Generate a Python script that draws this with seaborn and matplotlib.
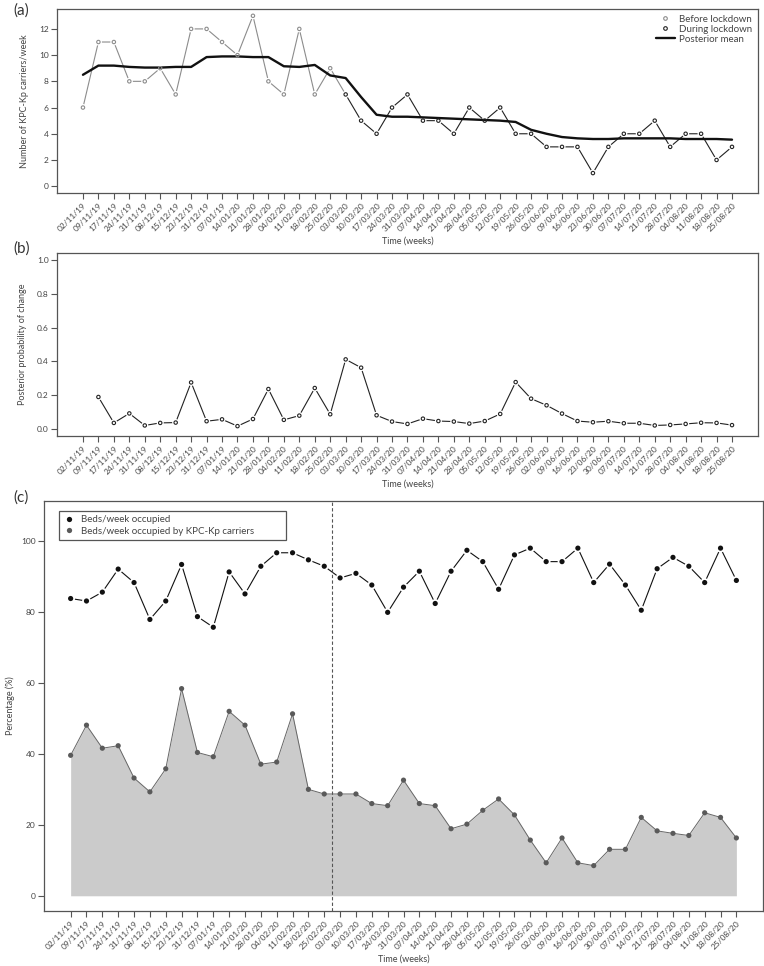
import numpy as np
import pandas as pd
import matplotlib
matplotlib.use("Agg")
import matplotlib.pyplot as plt
import seaborn as sns
from matplotlib.lines import Line2D

# ----------------------------
# DATA
# ----------------------------

weeks = ["02/11/19", "09/11/19", "17/11/19", "24/11/19", "31/11/19", "08/12/19",
         "15/12/19", "23/12/19", "31/12/19", "07/01/19", "14/01/20", "21/01/20",
         "28/01/20", "04/02/20", "11/02/20", "18/02/20", "25/02/20", "03/03/20",
         "10/03/20", "17/03/20", "24/03/20", "31/03/20", "07/04/20", "14/04/20",
         "21/04/20", "28/04/20", "05/05/20", "12/05/20", "19/05/20", "26/05/20",
         "02/06/20", "09/06/20", "16/06/20", "23/06/20", "30/06/20", "07/07/20",
         "14/07/20", "21/07/20", "28/07/20", "04/08/20", "11/08/20", "18/08/20",
         "25/08/20"]

kpc_carriers = [6, 11, 11, 8, 8, 9, 7, 12, 12, 11, 10, 13, 8, 7, 12, 7, 9, 7,
                5, 4, 6, 7, 5, 5, 4, 6, 5, 6, 4, 4, 3, 3, 3, 1, 3, 4, 4, 5, 3,
                4, 4, 2, 3]

posterior_mean = [8.5, 9.2, 9.2, 9.1, 9.05, 9.05, 9.1, 9.1, 9.85, 9.9, 9.9, 9.85,
                  9.85, 9.15, 9.1, 9.25, 8.45, 8.25, 6.8, 5.45, 5.3, 5.3, 5.25,
                  5.2, 5.15, 5.1, 5.05, 5.0, 4.9, 4.3, 4.0, 3.75, 3.65, 3.6, 3.6,
                  3.65, 3.65, 3.65, 3.65, 3.6, 3.6, 3.6, 3.55]

prob_change = [np.nan, 0.19, 0.037, 0.093, 0.022, 0.037, 0.039, 0.276, 0.047,
               0.058, 0.018, 0.06, 0.237, 0.055, 0.08, 0.243, 0.088, 0.412, 0.363,
               0.082, 0.045, 0.031, 0.062, 0.048, 0.045, 0.033, 0.048, 0.09,
               0.278, 0.18, 0.141, 0.092, 0.048, 0.041, 0.047, 0.035, 0.035,
               0.022, 0.025, 0.031, 0.038, 0.037, 0.024]

beds_occupied = [83.8, 83.1, 85.6, 92.1, 88.3, 77.9, 83.1, 93.4, 78.7, 75.7, 91.3,
                 85.1, 92.9, 96.7, 96.7, 94.7, 92.9, 89.6, 90.9, 87.6, 79.9, 87.0,
                 91.5, 82.4, 91.5, 97.4, 94.2, 86.4, 96.1, 98.0, 94.2, 94.2, 98.0,
                 88.3, 93.5, 87.6, 80.5, 92.2, 95.4, 92.9, 88.3, 98.0, 88.9]

beds_kpc = [39.6, 48.1, 41.6, 42.3, 33.2, 29.3, 35.8, 58.4, 40.4, 39.2, 52.0,
            48.1, 37.1, 37.7, 51.3, 30.0, 28.7, 28.7, 28.7, 26.0, 25.4, 32.6,
            26.0, 25.4, 18.9, 20.2, 24.1, 27.3, 22.8, 15.7, 9.3, 16.3, 9.3, 8.5,
            13.1, 13.1, 22.1, 18.3, 17.6, 17.0, 23.4, 22.1, 16.3]

lockdown_start = 17  # first week counted as "during lockdown"

df = pd.DataFrame({"t": np.arange(len(weeks)), "carriers": kpc_carriers,
                   "mean": posterior_mean, "prob": prob_change,
                   "beds": beds_occupied, "kpc": beds_kpc})

# ----------------------------
# STYLE
# ----------------------------

sns.set_style("ticks")
plt.rcParams["font.family"] = ["Lato", "DejaVu Sans"]

EDGE = "#555555"
TXT = "#444444"


def style_axes(ax, xlab, ylab):
    for s in ax.spines.values():
        s.set_visible(True)
        s.set_color(EDGE)
        s.set_linewidth(0.9)
    ax.set_xlim(-1.68, len(weeks) - 1 + 1.68)
    ax.set_xticks(df["t"])
    ax.set_xticklabels(weeks, rotation=45, ha="right", rotation_mode="anchor")
    ax.tick_params(direction="out", length=4, width=0.8, color=EDGE,
                   labelsize=6, labelcolor=TXT, pad=2)
    ax.set_xlabel(xlab, fontsize=6.5, color=TXT, labelpad=3)
    ax.set_ylabel(ylab, fontsize=6.5, color=TXT, labelpad=7)


fig = plt.figure(figsize=(7.64, 9.66), dpi=100)

# ----------------------------
# (a) KPC-Kp carriers per week
# ----------------------------

ax_a = fig.add_axes([0.0746, 0.8002, 0.9175, 0.1905])
before = df.iloc[:lockdown_start + 1]
during = df.iloc[lockdown_start:]

sns.lineplot(data=before, x="t", y="carriers", color="#8c8c8c", lw=0.8, ax=ax_a)
sns.lineplot(data=during, x="t", y="carriers", color="#222222", lw=0.8, ax=ax_a)
sns.scatterplot(data=df, x="t", y="carriers", color="white", edgecolor="none",
                s=26, ax=ax_a, zorder=3)
sns.lineplot(data=df, x="t", y="mean", color="#111111", lw=1.7, ax=ax_a, zorder=4)
sns.scatterplot(data=df.iloc[:lockdown_start], x="t", y="carriers", color="#8c8c8c",
                facecolor="none", edgecolor="#8c8c8c", linewidth=0.8, s=6,
                ax=ax_a, zorder=5)
sns.scatterplot(data=during, x="t", y="carriers", color="#222222",
                facecolor="none", edgecolor="#222222", linewidth=0.8, s=6,
                ax=ax_a, zorder=5)

ax_a.set_ylim(-0.52, 13.52)
ax_a.set_yticks(range(0, 13, 2))
style_axes(ax_a, "Time (weeks)", "Number of KPC-Kp carriers/week")

handles_a = [
    Line2D([], [], marker="o", ls="none", mfc="none", mec="#8c8c8c", mew=0.8, ms=2.6),
    Line2D([], [], marker="o", ls="none", mfc="none", mec="#222222", mew=0.8, ms=2.6),
    Line2D([], [], color="#111111", lw=1.7),
]
ax_a.legend(handles_a, ["Before lockdown", "During lockdown", "Posterior mean"],
            loc="upper right", frameon=False, fontsize=7, handlelength=2.0,
            handletextpad=0.4, labelspacing=0.1, borderaxespad=0.2,
            labelcolor=TXT)

# ----------------------------
# (b) Posterior probability of change
# ----------------------------

ax_b = fig.add_axes([0.0746, 0.5487, 0.9175, 0.1894])
sns.lineplot(data=df, x="t", y="prob", color="#222222", lw=0.8, ax=ax_b)
sns.scatterplot(data=df, x="t", y="prob", color="white", edgecolor="none",
                s=26, ax=ax_b, zorder=3)
sns.scatterplot(data=df, x="t", y="prob", color="#222222", facecolor="none",
                edgecolor="#222222", linewidth=0.8, s=6, ax=ax_b, zorder=5)
ax_b.set_ylim(-0.04, 1.04)
ax_b.set_yticks(np.arange(0, 1.01, 0.2))
ax_b.set_yticklabels([f"{v:.1f}" for v in np.arange(0, 1.01, 0.2)])
style_axes(ax_b, "Time (weeks)", "Posterior probability of change")

# ----------------------------
# (c) Bed occupancy
# ----------------------------

ax_c = fig.add_axes([0.0576, 0.0569, 0.9411, 0.4245])
ax_c.fill_between(df["t"], 0, df["kpc"], color="#cbcbcb", lw=0, zorder=1)
sns.lineplot(data=df, x="t", y="kpc", color="#666666", lw=0.7, ax=ax_c, zorder=2)
sns.scatterplot(data=df, x="t", y="kpc", color="#5a5a5a", edgecolor="none",
                s=14, ax=ax_c, zorder=5)

sns.lineplot(data=df, x="t", y="beds", color="#111111", lw=0.8, ax=ax_c, zorder=2)
sns.scatterplot(data=df, x="t", y="beds", color="white", edgecolor="none",
                s=40, ax=ax_c, zorder=3)
sns.scatterplot(data=df, x="t", y="beds", color="#111111", edgecolor="none",
                s=14, ax=ax_c, zorder=5)

ax_c.axvline(lockdown_start - 0.5, color=EDGE, lw=0.8, ls=(0, (3, 2)), zorder=4)
ax_c.set_ylim(-4.3, 111.3)
ax_c.set_yticks(range(0, 101, 20))
style_axes(ax_c, "Time (weeks)", "Percentage (%)")
ax_c.yaxis.labelpad = 4

handles_c = [
    Line2D([], [], marker="o", ls="none", mfc="#111111", mec="none", ms=3.8),
    Line2D([], [], marker="o", ls="none", mfc="#5a5a5a", mec="none", ms=3.8),
]
ax_c.legend(handles_c, ["Beds/week occupied", "Beds/week occupied by KPC-Kp carriers"],
            loc="upper left", bbox_to_anchor=(0.014, 0.0, 0.33, 0.988),
            mode="expand", fancybox=False, edgecolor=EDGE, framealpha=1,
            fontsize=7, handlelength=1.2, handletextpad=0.6,
            labelspacing=0.25, borderpad=0.45, labelcolor=TXT).get_frame().set_linewidth(0.9)

# panel letters
fig.text(0.018, 0.997, "(a)", fontsize=11, color="#333333", va="top")
fig.text(0.018, 0.750, "(b)", fontsize=11, color="#333333", va="top")
fig.text(0.018, 0.492, "(c)", fontsize=11, color="#333333", va="top")

plt.savefig("out.png", dpi=100)
